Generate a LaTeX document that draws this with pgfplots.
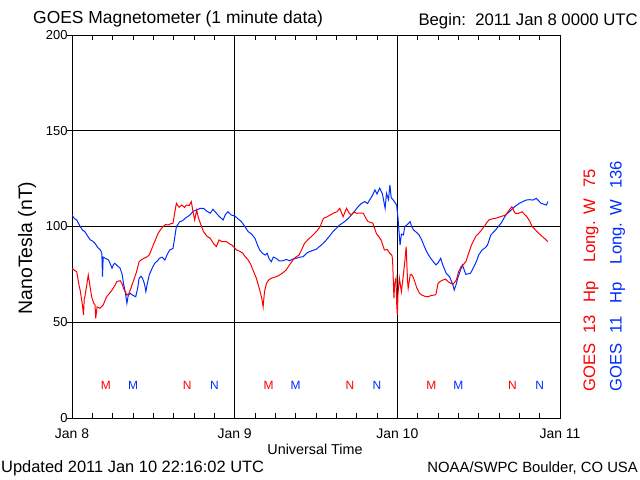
\documentclass[border=0pt]{standalone}
\usepackage{fontspec}
\setmainfont{Liberation Sans}
\usepackage{pgfplots}
\pgfplotsset{compat=1.18}
\definecolor{goesred}{RGB}{255,0,0}
\definecolor{goesblue}{RGB}{0,45,255}

\pgfplotstableread{
h v
0 106
0.4 104
0.7 103.4
1.2 100
1.6 98
1.9 97.3
2.3 95
2.7 93
3.0 92.5
3.4 91.2
3.8 89
4.2 87.7
4.4 86
4.5 73.8
4.6 84
4.9 83.4
5.4 82.5
5.7 80
5.9 78.2
6.1 80
6.3 80.8
6.7 79.5
7.1 78.2
7.4 75
7.6 70.3
7.9 65
8.1 59.9
8.3 64
8.6 65.1
9.0 64
9.4 63.3
9.7 68
9.9 73
10.2 74
10.4 73
10.7 70
10.9 66
11.1 70
11.4 74.7
11.8 78
12.2 80.8
12.6 82
12.9 83.4
13.3 84
13.7 82.5
14.0 85
14.4 87.7
14.9 88.6
15.1 93
15.4 99.9
15.9 102.5
16.3 103
16.7 104.3
17.0 105
17.4 106
17.9 108
18.4 108.6
18.9 109.5
19.4 109.5
19.9 108
20.4 106.9
20.8 109
21.3 106.9
21.8 105
22.3 103.4
22.6 106
23.0 107.7
23.5 106
24.0 105.5
24.5 104
25.0 102.5
25.5 100
26.0 97.3
26.5 96
27.0 93.8
27.4 90
27.7 87.7
28.1 86
28.5 85.1
28.8 86
29.1 83
29.4 81.6
29.7 84
30.1 83.4
30.6 82
31.1 82.1
31.6 82.8
32.1 82.1
32.6 83
33.1 83.4
33.6 84
34.1 84.2
34.6 86
35.0 86.8
35.5 87.5
36.0 88
36.5 89.5
37.0 91
37.5 92.9
38.0 95
38.5 97.3
39.0 99
39.5 100.8
40.2 102.5
40.7 104
41.2 106
41.7 108
42.2 110.3
42.7 112
43.2 113
43.6 112
43.9 113.8
44.3 116
44.7 119.1
45.0 117
45.4 120
45.8 117
46.2 109.5
46.4 117.3
46.7 114
46.9 121.7
47.1 115
47.4 113.8
47.9 111.2
48.1 104.3
48.4 90.3
48.6 96
48.9 95.6
49.1 100
49.4 100.8
49.9 102.5
50.1 100
50.4 98.2
50.8 97
51.2 95.6
51.6 93
51.9 90.3
52.3 87
52.6 85.1
53.0 83
53.5 80.8
53.7 79.9
54.0 81
54.4 83.4
54.7 80
55.2 75.6
55.7 73.8
56.2 69.5
56.4 66.8
56.7 70
56.9 73
57.2 76
57.6 79.9
58.1 75
58.8 75.6
59.3 79
59.7 82
60.0 85.1
60.5 87.7
61.0 89
61.3 90.3
61.8 95.6
62.5 98.2
63.3 101.7
64.0 106
64.8 108.6
65.3 110.3
66.0 112.1
66.5 113
67.0 113.8
67.5 114
68.0 113.8
68.5 114.7
69.2 112.1
70.0 111.2
70.2 113
}\goeseleven

\pgfplotstableread{
h v
0 78.2
0.4 77
0.7 76.4
1.0 70
1.2 66.8
1.5 60
1.7 53.8
1.8 62
1.9 63.3
2.2 70
2.4 74.7
2.6 70
2.9 63.3
3.2 60
3.4 59
3.5 52
3.7 58
4.1 57.3
4.6 59
5.1 63.3
5.5 65
5.9 66.8
6.3 69
6.6 71.2
7.1 71.7
7.4 70
7.6 67.7
8.1 64.2
8.4 65
8.6 66.8
9.1 72
9.5 76
9.9 81.6
10.2 82.5
10.6 83.4
11.0 84
11.4 85.1
11.9 89.5
12.3 93
12.7 96.4
13.0 98
13.4 99.9
13.8 101
14.2 100.8
14.6 101.5
14.9 101.7
15.1 106
15.4 112.1
15.8 110
16.2 111.2
16.6 110
16.9 111.2
17.3 111
17.6 113
17.9 106.9
18.1 103.4
18.4 108.6
18.6 105.1
19.0 101
19.4 97.3
19.9 95
20.4 93.8
20.9 91
21.3 89.5
21.7 93
22.1 92.1
22.8 92.1
23.2 91
23.6 90.3
24.3 87.7
24.8 87
25.2 86
25.6 84
26.0 82.5
26.4 80
26.7 77.3
27.2 73
27.7 66.8
28.0 62.5
28.2 58.1
28.4 66
28.7 70.3
29.0 72
29.4 73
29.9 73.5
30.4 74.2
31.0 75.5
31.6 77.3
32.1 80
32.6 82.5
33.0 84
33.5 85.1
33.9 88
34.3 91.2
35.0 93.8
35.4 95
35.8 96.4
36.2 98
36.6 99.9
37.1 104.3
37.6 105
38.1 106
38.6 107
39.1 107.7
39.5 109.5
40.0 105.1
40.5 109.5
40.9 107
41.2 106
41.6 107.5
42.0 106.9
42.5 107
43.0 106.9
43.4 104
43.7 102.5
44.4 101.7
44.9 96.4
45.2 95
45.6 92.9
46.1 87.7
46.5 88
46.9 86
47.2 85
47.3 82.5
47.5 62.5
47.6 70
47.8 73
47.9 60
48.0 53.8
48.1 65
48.3 73
48.6 66
48.9 75
49.1 81.6
49.3 89.5
49.5 72
49.6 67.7
49.9 74.7
50.1 75
50.4 73
50.9 67.7
51.3 65
51.6 64.2
52.1 63.5
52.6 63.3
53.0 64
53.5 64.2
53.7 64.6
54.0 70.3
54.4 71.5
54.7 72
55.1 72.5
55.5 71.2
55.8 70.5
56.2 69.8
56.7 72
57.0 76
57.4 79
57.7 80
58.1 81.6
58.6 86.8
58.9 90
59.3 92.9
59.6 95
60.0 96.4
60.4 98
60.8 99.9
61.2 102
61.5 103.4
62.0 104
62.5 104.3
63.2 105.1
64.0 106
64.5 108.6
64.9 110.3
65.2 108
65.4 106.9
65.9 106.9
66.4 107.7
67.1 105.1
67.5 103
67.9 99.9
68.3 98.5
68.6 97.3
69.0 96
69.4 94.7
69.8 93.5
70.2 92.1
}\goesthirteen

\pgfplotstableread{
h v lab
5 17 M
17 17 N
29 17 M
41 17 N
53 17 M
65 17 N
}\redmarks

\pgfplotstableread{
h v lab
9 17 M
21 17 N
33 17 M
45 17 N
57 17 M
69 17 N
}\bluemarks

\begin{document}
\begin{tikzpicture}[x=1bp,y=1bp]
\useasboundingbox (0,0) rectangle (640,480);
\fill[white] (0,0) rectangle (640,480);
\begin{axis}[
  at={(72bp,62bp)}, anchor=south west,
  scale only axis, width=488bp, height=383bp,
  xmin=0, xmax=72, ymin=0, ymax=200,
  axis line style={black, line width=0.9bp},
  grid=major, major grid style={black, line width=0.9bp},
  xtick={0,24,48,72}, xticklabels={Jan 8,Jan 9,Jan 10,Jan 11},
  minor xtick={3,6,...,69},
  ytick={0,50,100,150,200},
  xtick pos=both, ytick pos=left,
  tick align=inside,
  major tick length=5bp, minor tick length=5bp,
  tick style={black, line width=0.8bp},
  y tick style={xshift=-5bp},
  /pgf/number format/assume math mode=true,
  xticklabel style={font=\fontsize{14}{14}\selectfont, yshift=-7bp},
  yticklabel style={font=\fontsize{13}{13}\selectfont, xshift=-1bp},
  clip=true,
]
\addplot[goesblue, line width=1bp] table[x=h, y=v] {\goeseleven};
\addplot[goesred, line width=1bp] table[x=h, y=v] {\goesthirteen};
\addplot[draw=none, nodes near coords, point meta=explicit symbolic,
  every node near coord/.append style={anchor=center, text=goesred, font=\fontsize{12}{12}\selectfont}]
  table[x=h, y=v, meta=lab] {\redmarks};
\addplot[draw=none, nodes near coords, point meta=explicit symbolic,
  every node near coord/.append style={anchor=center, text=goesblue, font=\fontsize{12}{12}\selectfont}]
  table[x=h, y=v, meta=lab] {\bluemarks};
\end{axis}
\node[anchor=base west, inner sep=0, font=\fontsize{17.5}{17.5}\selectfont] at (33,456) {GOES Magnetometer (1 minute data)};
\node[anchor=base east, inner sep=0, font=\fontsize{16.8}{16.8}\selectfont] at (638,454) {Begin:\ \ 2011 Jan 8 0000 UTC};
\node[anchor=base, inner sep=0, font=\fontsize{14.4}{14.4}\selectfont] at (315,25) {Universal Time};
\node[anchor=base west, inner sep=0, font=\fontsize{16.5}{16.5}\selectfont] at (1,7) {Updated 2011 Jan 10 22:16:02 UTC};
\node[anchor=base east, inner sep=0, font=\fontsize{14.9}{14.9}\selectfont] at (638,7) {NOAA/SWPC Boulder, CO USA};
\node[anchor=base, inner sep=0, rotate=90, font=\fontsize{19.5}{19.5}\selectfont] at (32,232) {NanoTesla (nT)};
\node[anchor=base west, inner sep=0, rotate=90, text=goesred, font=\fontsize{16.7}{16.7}\selectfont] at (595,88)
  {GOES\hspace{10bp}13\hspace{13bp}Hp\hspace{18bp}Long.\hspace{7bp}W\hspace{11bp}75};
\node[anchor=base west, inner sep=0, rotate=90, text=goesblue, font=\fontsize{16.7}{16.7}\selectfont] at (621.5,88)
  {GOES\hspace{10bp}11\hspace{13bp}Hp\hspace{18bp}Long.\hspace{7bp}W\hspace{11bp}136};
\end{tikzpicture}
\end{document}
